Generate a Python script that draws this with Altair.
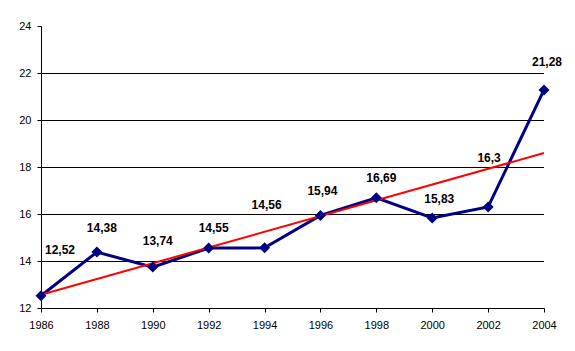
import altair as alt
import pandas as pd

years = [1986, 1988, 1990, 1992, 1994, 1996, 1998, 2000, 2002, 2004]
values = [12.52, 14.38, 13.74, 14.55, 14.56, 15.94, 16.69, 15.83, 16.3, 21.28]
labels = ["12,52", "14,38", "13,74", "14,55", "14,56", "15,94", "16,69", "15,83", "16,3", "21,28"]
grid_values = [14, 16, 18, 20, 22]
x_ticks = [1986, 1988, 1990, 1992, 1994, 1996, 1998, 2000, 2002, 2004]
y_ticks = [12, 14, 16, 18, 20, 22, 24]

# label offsets in pixels (style only)
label_dx = [19, 5, 5, 5, 2, 2, 5, 7, 1, 3]
label_dy = [-46, -24, -26, -20, -43, -24, -20, -19, -49, -28]

df = pd.DataFrame({"year": years, "value": values, "label": labels})
grid_df = pd.DataFrame({"g": grid_values})

FONT = "Liberation Sans"

xscale = alt.Scale(domain=[1986, 2004], nice=False, zero=False)
yscale = alt.Scale(domain=[12, 24], nice=False, zero=False)

xaxis = alt.Axis(values=x_ticks, format="d", title=None, grid=False,
                 domain=True, domainColor="black", domainWidth=1,
                 tickColor="black", tickSize=4,
                 labelFont=FONT, labelFontSize=11, labelColor="black",
                 labelPadding=7, labelFlush=False)
yaxis = alt.Axis(values=y_ticks, format="d", title=None, grid=False,
                 domain=True, domainColor="black", domainWidth=1,
                 tickColor="black", tickSize=4,
                 labelFont=FONT, labelFontSize=11, labelColor="black",
                 labelPadding=6)

grid = alt.Chart(grid_df).mark_rule(color="black", strokeWidth=1, yOffset=0.5).encode(
    y=alt.Y("g:Q", scale=yscale, axis=yaxis)
)

base = alt.Chart(df)

line = base.mark_line(color="#000080", strokeWidth=3).encode(
    x=alt.X("year:Q", scale=xscale, axis=xaxis),
    y=alt.Y("value:Q", scale=yscale),
)

points = base.mark_point(shape="diamond", filled=True, size=121, color="#000080", opacity=1).encode(
    x=alt.X("year:Q", scale=xscale),
    y=alt.Y("value:Q", scale=yscale),
)

trend = base.transform_regression("year", "value", extent=[1986, 2004]).mark_line(
    color="#FF0000", strokeWidth=2
).encode(
    x=alt.X("year:Q", scale=xscale),
    y=alt.Y("value:Q", scale=yscale),
)

text_layers = []
for i in range(len(years)):
    t = alt.Chart(df.iloc[[i]]).mark_text(
        font=FONT, fontSize=12, fontWeight="bold", color="black",
        dx=label_dx[i], dy=label_dy[i], align="center", baseline="middle"
    ).encode(
        x=alt.X("year:Q", scale=xscale),
        y=alt.Y("value:Q", scale=yscale),
        text="label:N",
    )
    text_layers.append(t)

chart = alt.layer(grid, line, trend, points, *text_layers).properties(
    width=503, height=282,
    autosize=alt.AutoSizeParams(type="none"),
    padding={"left": 41, "top": 26, "right": 31, "bottom": 43},
    background="white",
).configure_view(stroke=None)

chart.save("out.html", embed_options={"renderer": "svg", "actions": False})
